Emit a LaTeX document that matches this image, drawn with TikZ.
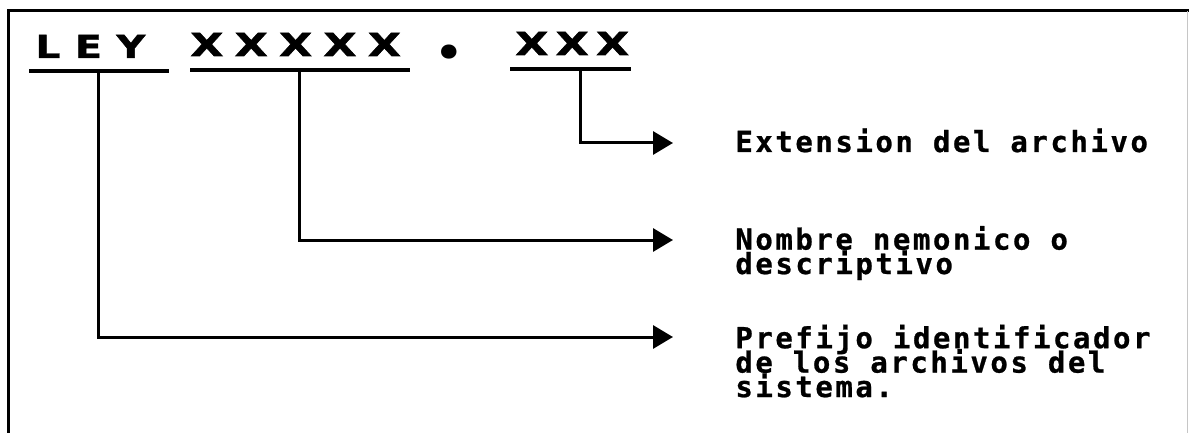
\documentclass[tikz,border=0pt]{standalone}
\usepackage{fontspec}
\usetikzlibrary{arrows.meta}
% heavy, widely spaced lettering for the file name pattern
\newfontfamily\leyfont{DejaVu Sans}[FakeStretch=1.25,FakeBold=1.4,LetterSpace=46]
\newfontfamily\pattfont{DejaVu Sans}[FakeStretch=1.35,FakeBold=1.8,LetterSpace=36.4]
\newfontfamily\extfont{DejaVu Sans}[FakeStretch=1.35,FakeBold=1.8,LetterSpace=23.7]
\newfontfamily\dotfont{Poppins}
% plotter-like fixed-pitch lettering for the explanations
\newfontfamily\notefont{DejaVu Sans Mono}[LetterSpace=8.8,FakeBold=0.8]
% fixed baseline distance, even where lines touch
\newcommand\evenlines{\lineskiplimit=-20pt\relax\lineskip=0pt\relax}
\begin{document}
\begin{tikzpicture}[x=0.5pt,y=-0.5pt,
  frame/.style={line width=1.5pt},
  uline/.style={line width=2pt},
  conn/.style={line width=1.5pt,line join=miter,-{Triangle[length=10pt,width=11.5pt]}},
  headtxt/.style={inner sep=0pt,anchor=base west,font=\fontsize{15.8}{18}\selectfont\bfseries},
  notetxt/.style={inner sep=0pt,anchor=base west,align=left,
    font=\notefont\fontsize{14.5}{12.2}\selectfont\bfseries\evenlines}]
\useasboundingbox (0,0) rectangle (1189,433);
\fill[white] (0,0) rectangle (1189,433);

% frame (open at the bottom)
\draw[frame] (8,433) -- (8,11) -- (1189,11);
\draw[gray!45,line width=0.4pt] (1187,11) -- (1187,433);

% file name pattern
\node[headtxt] (ley) at (35,58) {\leyfont LEY};
\node[headtxt] (patt) at (190,56) {\pattfont XXXXX};
\node[inner sep=0pt,anchor=base,font=\dotfont\fontsize{38}{38}\selectfont\bfseries] (dot) at (449,58.5) {.};
\node[headtxt] (ext) at (515,55) {\extfont XXX};

% underlines
\coordinate (leyL) at (29,71);  \coordinate (leyR) at (169,71);  \coordinate (leyM) at (98,71);
\coordinate (pattL) at (190,70); \coordinate (pattR) at (410,70); \coordinate (pattM) at (299,70);
\coordinate (extL) at (510,69);  \coordinate (extR) at (631,69);  \coordinate (extM) at (580,69);
\draw[uline] (leyL) -- (leyR);
\draw[uline] (pattL) -- (pattR);
\draw[uline] (extL) -- (extR);

% explanations (a multi-line node sits on the baseline of its last line)
\node[notetxt] (extnote) at (735,152) {Extension del archivo};
\node[notetxt] (pattnote) at (735,274) {Nombre nemonico o\\descriptivo};
\node[notetxt] (leynote) at (735,397) {Prefijo identificador\\de los archivos del\\sistema.};

% connectors
\coordinate (tipExt) at (673,143);
\coordinate (tipPatt) at (673,240);
\coordinate (tipLey) at (673,337);
\draw[conn] (extM) |- (tipExt);
\draw[conn] (pattM) |- (tipPatt);
\draw[conn] (leyM) |- (tipLey);
\end{tikzpicture}
\end{document}
